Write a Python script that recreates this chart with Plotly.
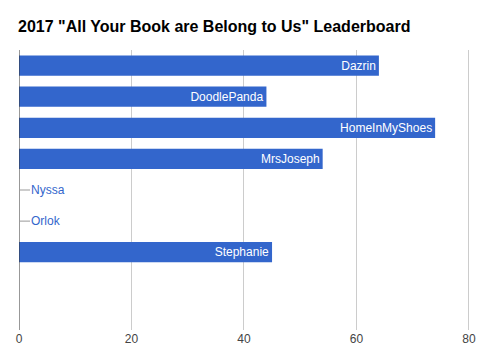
import plotly.graph_objects as go

names = ["Dazrin", "DoodlePanda", "HomeInMyShoes", "MrsJoseph", "Nyssa", "Orlok", "Stephanie"]
books = [64, 44, 74, 54, 0, 0, 45]
x_ticks = [0, 20, 40, 60, 80]

BLUE = "#3366cc"
FONT = "Liberation Sans, Arial, sans-serif"

fig = go.Figure()
fig.add_trace(go.Bar(
    y=names, x=books, orientation="h",
    marker=dict(color=BLUE, line=dict(width=0)),
    text=[n if v > 0 else "" for n, v in zip(names, books)],
    textposition="inside", insidetextanchor="end",
    textfont=dict(color="white", size=12, family=FONT),
    constraintext="none", cliponaxis=False,
    hoverinfo="x+y",
))

for n, v in zip(names, books):
    if v == 0:
        fig.add_annotation(
            x=v, y=n, xref="x", yref="y", text=n,
            showarrow=True, arrowhead=0, arrowwidth=1, arrowcolor="#999999",
            ax=11, ay=0, xanchor="left", yanchor="middle",
            font=dict(color=BLUE, size=12, family=FONT),
            borderpad=0, standoff=0,
        )

fig.update_layout(
    width=488, height=361,
    margin=dict(l=18.5, r=18, t=50, b=31, pad=0),
    paper_bgcolor="white", plot_bgcolor="white",
    bargap=0.35,
    showlegend=False,
    title=dict(
        text='2017 "All Your Book are Belong to Us" Leaderboard',
        x=18 / 488, xref="container", xanchor="left",
        y=1 - 26 / 361, yref="container", yanchor="middle",
        font=dict(family=FONT, size=16, color="black", weight="bold"),
    ),
    xaxis=dict(
        range=[0, 80.2], tickvals=x_ticks, ticktext=[str(t) for t in x_ticks],
        showgrid=True, gridcolor="#cccccc", gridwidth=1,
        zeroline=False, showline=False, ticks="",
        tickfont=dict(family=FONT, size=12, color="#444444"),
        fixedrange=True,
    ),
    yaxis=dict(
        categoryorder="array", categoryarray=names,
        range=[8.5, -0.5], showticklabels=False, showgrid=False,
        zeroline=False, showline=False, ticks="", fixedrange=True,
    ),
    font=dict(family=FONT),
)

# baseline at 0
fig.add_shape(type="line", xref="x", yref="paper", x0=0, x1=0, y0=0, y1=1,
              line=dict(color="#333333", width=1))

fig.write_html("out.html")
